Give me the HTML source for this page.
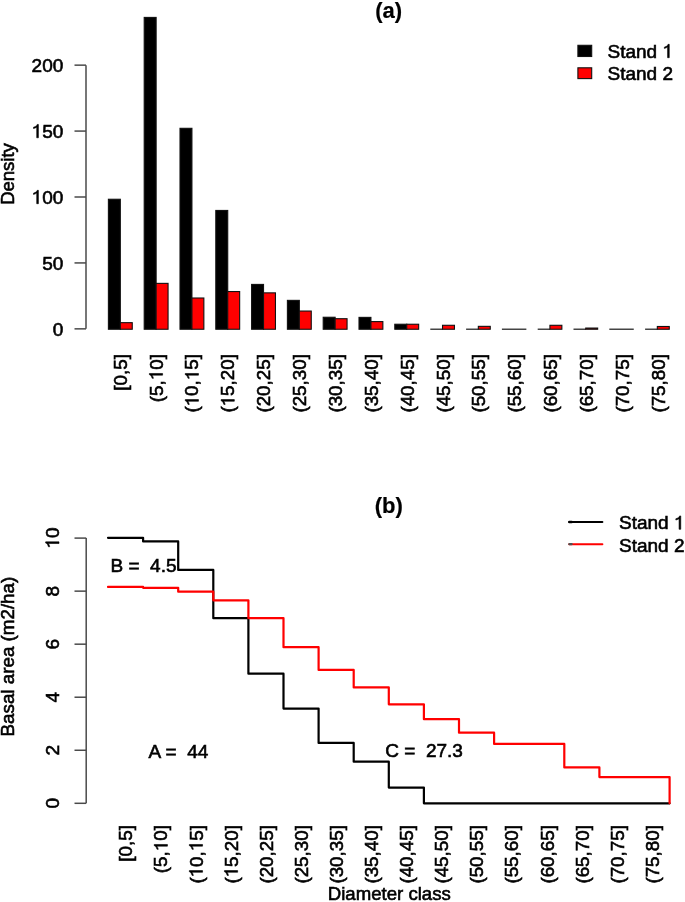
<!DOCTYPE html><html><head><meta charset="utf-8"><style>html,body{margin:0;padding:0;background:#fff;}svg{display:block;will-change:transform;}text{font-family:"Liberation Sans", sans-serif;font-size:19px;fill:#000;stroke:#000;stroke-width:0.6px;}.o{fill-opacity:0;stroke-opacity:0;}</style></head><body>
<svg width="685" height="902" viewBox="0 0 685 902">
<rect x="0" y="0" width="685" height="902" fill="#fff"/>
<g stroke="#4a4a4a" stroke-width="1.5" fill="none">
<line x1="86.00" y1="328.85" x2="86.00" y2="65.15"/>
<line x1="74.5" y1="328.85" x2="86.00" y2="328.85"/>
<line x1="74.5" y1="262.93" x2="86.00" y2="262.93"/>
<line x1="74.5" y1="197.00" x2="86.00" y2="197.00"/>
<line x1="74.5" y1="131.08" x2="86.00" y2="131.08"/>
<line x1="74.5" y1="65.15" x2="86.00" y2="65.15"/>
</g>
<text x="63.30" y="335.55" text-anchor="end">0</text>
<text x="63.30" y="269.62" text-anchor="end">50</text>
<text x="63.30" y="203.70" text-anchor="end"><tspan class="o">1</tspan>00</text>
<text x="63.30" y="137.78" text-anchor="end"><tspan class="o">1</tspan>50</text>
<text x="63.30" y="71.85" text-anchor="end">200</text>
<g stroke="#111" stroke-width="1.1">
<rect x="108.40" y="199.25" width="11.93" height="130.00" fill="#000"/>
<rect x="120.33" y="322.66" width="11.93" height="6.59" fill="#ff0000"/>
<rect x="144.20" y="17.42" width="11.93" height="311.83" fill="#000"/>
<rect x="156.13" y="283.37" width="11.93" height="45.88" fill="#ff0000"/>
<rect x="180.00" y="128.31" width="11.93" height="200.94" fill="#000"/>
<rect x="191.93" y="298.00" width="11.93" height="31.25" fill="#ff0000"/>
<rect x="215.80" y="210.45" width="11.93" height="118.80" fill="#000"/>
<rect x="227.73" y="291.54" width="11.93" height="37.71" fill="#ff0000"/>
<rect x="251.60" y="284.42" width="11.93" height="44.83" fill="#000"/>
<rect x="263.53" y="292.86" width="11.93" height="36.39" fill="#ff0000"/>
<rect x="287.40" y="300.37" width="11.93" height="28.88" fill="#000"/>
<rect x="299.33" y="311.05" width="11.93" height="18.20" fill="#ff0000"/>
<rect x="323.20" y="317.25" width="11.93" height="12.00" fill="#000"/>
<rect x="335.13" y="318.70" width="11.93" height="10.55" fill="#ff0000"/>
<rect x="359.00" y="317.38" width="11.93" height="11.87" fill="#000"/>
<rect x="370.93" y="321.60" width="11.93" height="7.65" fill="#ff0000"/>
<rect x="394.80" y="324.24" width="11.93" height="5.01" fill="#000"/>
<rect x="406.73" y="324.24" width="11.93" height="5.01" fill="#ff0000"/>
<line x1="430.30" y1="329.25" x2="442.83" y2="329.25" stroke="#454545" stroke-width="1.5"/>
<rect x="442.53" y="325.29" width="11.93" height="3.96" fill="#ff0000"/>
<line x1="466.10" y1="329.25" x2="478.63" y2="329.25" stroke="#454545" stroke-width="1.5"/>
<rect x="478.33" y="326.35" width="11.93" height="2.90" fill="#ff0000"/>
<line x1="501.90" y1="329.25" x2="526.36" y2="329.25" stroke="#454545" stroke-width="1.5"/>
<line x1="537.70" y1="329.25" x2="550.23" y2="329.25" stroke="#454545" stroke-width="1.5"/>
<rect x="549.93" y="325.29" width="11.93" height="3.96" fill="#ff0000"/>
<line x1="573.50" y1="329.25" x2="586.03" y2="329.25" stroke="#454545" stroke-width="1.5"/>
<rect x="585.73" y="328.06" width="11.93" height="1.19" fill="#ff0000"/>
<line x1="609.30" y1="329.25" x2="633.76" y2="329.25" stroke="#454545" stroke-width="1.5"/>
<line x1="645.10" y1="329.25" x2="657.63" y2="329.25" stroke="#454545" stroke-width="1.5"/>
<rect x="657.33" y="326.48" width="11.93" height="2.77" fill="#ff0000"/>
</g>
<text transform="translate(126.73,354.1) rotate(-90)" text-anchor="end" style="font-size:18.8px">[0,5]</text>
<text transform="translate(162.60,354.1) rotate(-90)" text-anchor="end" style="font-size:18.8px">(5,<tspan class="o">1</tspan>0]</text>
<text transform="translate(198.47,354.1) rotate(-90)" text-anchor="end" style="font-size:18.8px">(<tspan class="o">1</tspan>0,<tspan class="o">1</tspan>5]</text>
<text transform="translate(234.34,354.1) rotate(-90)" text-anchor="end" style="font-size:18.8px">(<tspan class="o">1</tspan>5,20]</text>
<text transform="translate(270.21,354.1) rotate(-90)" text-anchor="end" style="font-size:18.8px">(20,25]</text>
<text transform="translate(306.08,354.1) rotate(-90)" text-anchor="end" style="font-size:18.8px">(25,30]</text>
<text transform="translate(341.95,354.1) rotate(-90)" text-anchor="end" style="font-size:18.8px">(30,35]</text>
<text transform="translate(377.82,354.1) rotate(-90)" text-anchor="end" style="font-size:18.8px">(35,40]</text>
<text transform="translate(413.69,354.1) rotate(-90)" text-anchor="end" style="font-size:18.8px">(40,45]</text>
<text transform="translate(449.56,354.1) rotate(-90)" text-anchor="end" style="font-size:18.8px">(45,50]</text>
<text transform="translate(485.43,354.1) rotate(-90)" text-anchor="end" style="font-size:18.8px">(50,55]</text>
<text transform="translate(521.30,354.1) rotate(-90)" text-anchor="end" style="font-size:18.8px">(55,60]</text>
<text transform="translate(557.17,354.1) rotate(-90)" text-anchor="end" style="font-size:18.8px">(60,65]</text>
<text transform="translate(593.04,354.1) rotate(-90)" text-anchor="end" style="font-size:18.8px">(65,70]</text>
<text transform="translate(628.91,354.1) rotate(-90)" text-anchor="end" style="font-size:18.8px">(70,75]</text>
<text transform="translate(664.78,354.1) rotate(-90)" text-anchor="end" style="font-size:18.8px">(75,80]</text>
<text transform="translate(14.2,174.0) rotate(-90)" text-anchor="middle" style="font-size:18.5px">Density</text>
<text x="388.70" y="18.00" text-anchor="middle" style="font-weight:bold;font-size:22px;stroke-width:0.2px">(a)</text>
<rect x="577.9" y="45.3" width="13.8" height="11.2" fill="#000" stroke="#111" stroke-width="1.1"/>
<rect x="577.9" y="67.8" width="13.8" height="10.8" fill="#ff0000" stroke="#111" stroke-width="1.1"/>
<text x="607.50" y="57.70">Stand <tspan class="o">1</tspan></text>
<text x="607.50" y="79.80">Stand 2</text>
<g stroke="#4a4a4a" stroke-width="1.5" fill="none">
<line x1="86.20" y1="803.30" x2="86.20" y2="538.10"/>
<line x1="74.5" y1="803.30" x2="86.20" y2="803.30"/>
<line x1="74.5" y1="750.26" x2="86.20" y2="750.26"/>
<line x1="74.5" y1="697.22" x2="86.20" y2="697.22"/>
<line x1="74.5" y1="644.18" x2="86.20" y2="644.18"/>
<line x1="74.5" y1="591.14" x2="86.20" y2="591.14"/>
<line x1="74.5" y1="538.10" x2="86.20" y2="538.10"/>
</g>
<text transform="translate(59.0,803.30) rotate(-90)" text-anchor="middle">0</text>
<text transform="translate(59.0,750.26) rotate(-90)" text-anchor="middle">2</text>
<text transform="translate(59.0,697.22) rotate(-90)" text-anchor="middle">4</text>
<text transform="translate(59.0,644.18) rotate(-90)" text-anchor="middle">6</text>
<text transform="translate(59.0,591.14) rotate(-90)" text-anchor="middle">8</text>
<text transform="translate(59.0,538.10) rotate(-90)" text-anchor="middle"><tspan class="o">1</tspan>0</text>
<polyline points="108.00,537.83 143.10,537.83 143.10,541.41 178.20,541.41 178.20,569.92 213.30,569.92 213.30,618.19 248.40,618.19 248.40,673.70 283.50,673.70 283.50,708.60 318.60,708.60 318.60,742.89 353.70,742.89 353.70,761.69 388.80,761.69 388.80,787.60 423.90,787.60 423.90,803.30 459.00,803.30 459.00,803.30 494.10,803.30 494.10,803.30 529.20,803.30 529.20,803.30 564.30,803.30 564.30,803.30 599.40,803.30 599.40,803.30 634.50,803.30 634.50,803.30 669.60,803.30 669.60,803.30" fill="none" stroke="#000" stroke-width="2.2" stroke-linejoin="round" stroke-linecap="round"/>
<polyline points="108.00,586.90 143.10,586.90 143.10,587.80 178.20,587.80 178.20,591.67 213.30,591.67 213.30,600.29 248.40,600.29 248.40,618.19 283.50,618.19 283.50,647.20 318.60,647.20 318.60,669.90 353.70,669.90 353.70,687.41 388.80,687.41 388.80,704.30 423.90,704.30 423.90,719.21 459.00,719.21 459.00,732.70 494.10,732.70 494.10,743.90 529.20,743.90 529.20,743.90 564.30,743.90 564.30,767.39 599.40,767.39 599.40,777.05 634.50,777.05 634.50,777.05 669.60,777.05 669.60,803.30" fill="none" stroke="#ff0000" stroke-width="2.2" stroke-linejoin="round" stroke-linecap="round"/>
<text transform="translate(132.35,825.1) rotate(-90)" text-anchor="end" style="font-size:18.8px">[0,5]</text>
<text transform="translate(167.45,825.1) rotate(-90)" text-anchor="end" style="font-size:18.8px">(5,<tspan class="o">1</tspan>0]</text>
<text transform="translate(202.55,825.1) rotate(-90)" text-anchor="end" style="font-size:18.8px">(<tspan class="o">1</tspan>0,<tspan class="o">1</tspan>5]</text>
<text transform="translate(237.65,825.1) rotate(-90)" text-anchor="end" style="font-size:18.8px">(<tspan class="o">1</tspan>5,20]</text>
<text transform="translate(272.75,825.1) rotate(-90)" text-anchor="end" style="font-size:18.8px">(20,25]</text>
<text transform="translate(307.85,825.1) rotate(-90)" text-anchor="end" style="font-size:18.8px">(25,30]</text>
<text transform="translate(342.95,825.1) rotate(-90)" text-anchor="end" style="font-size:18.8px">(30,35]</text>
<text transform="translate(378.05,825.1) rotate(-90)" text-anchor="end" style="font-size:18.8px">(35,40]</text>
<text transform="translate(413.15,825.1) rotate(-90)" text-anchor="end" style="font-size:18.8px">(40,45]</text>
<text transform="translate(448.25,825.1) rotate(-90)" text-anchor="end" style="font-size:18.8px">(45,50]</text>
<text transform="translate(483.35,825.1) rotate(-90)" text-anchor="end" style="font-size:18.8px">(50,55]</text>
<text transform="translate(518.45,825.1) rotate(-90)" text-anchor="end" style="font-size:18.8px">(55,60]</text>
<text transform="translate(553.55,825.1) rotate(-90)" text-anchor="end" style="font-size:18.8px">(60,65]</text>
<text transform="translate(588.65,825.1) rotate(-90)" text-anchor="end" style="font-size:18.8px">(65,70]</text>
<text transform="translate(623.75,825.1) rotate(-90)" text-anchor="end" style="font-size:18.8px">(70,75]</text>
<text transform="translate(658.85,825.1) rotate(-90)" text-anchor="end" style="font-size:18.8px">(75,80]</text>
<text x="389.30" y="900.00" text-anchor="middle" style="font-size:18.6px">Diameter class</text>
<text transform="translate(14.3,656.6) rotate(-90)" text-anchor="middle" style="font-size:18.8px">Basal area (m2/ha)</text>
<text x="388.80" y="513.00" text-anchor="middle" style="font-weight:bold;font-size:22px;stroke-width:0.2px">(b)</text>
<line x1="569.2" y1="522" x2="602.4" y2="522" stroke="#000" stroke-width="2" stroke-linecap="round"/>
<line x1="569.4" y1="522" x2="571.6" y2="522" stroke="#000" stroke-width="2.5" stroke-linecap="round"/>
<line x1="569.2" y1="544.2" x2="602.4" y2="544.2" stroke="#ff0000" stroke-width="2" stroke-linecap="round"/>
<line x1="569.4" y1="544.2" x2="571.6" y2="544.2" stroke="#505050" stroke-width="2.3" stroke-linecap="round"/>
<text x="619.00" y="529.30">Stand <tspan class="o">1</tspan></text>
<text x="619.00" y="551.50">Stand 2</text>
<text x="110.50" y="571.60" xml:space="preserve">B =  4.5</text>
<text x="148.60" y="757.80" xml:space="preserve">A =  44</text>
<text x="385.30" y="757.00" xml:space="preserve">C =  27.3</text>
<g fill="#000" stroke="#000"><path d="M 359 0 L 359 703 L 296 703 C 286 662 266 634 232 612 C 200 591 158 580 101 556 L 101 488 C 165 505 230 525 271 560 L 271 0 Z" transform="translate(31.581,203.700) scale(0.01900,-0.01900)" stroke-width="31.579"/><path d="M 359 0 L 359 703 L 296 703 C 286 662 266 634 232 612 C 200 591 158 580 101 556 L 101 488 C 165 505 230 525 271 560 L 271 0 Z" transform="translate(31.581,137.780) scale(0.01900,-0.01900)" stroke-width="31.579"/><g transform="translate(162.60,354.1) rotate(-90)"><path d="M 359 0 L 359 703 L 296 703 C 286 662 266 634 232 612 C 200 591 158 580 101 556 L 101 488 C 165 505 230 525 271 560 L 271 0 Z" transform="translate(-26.125,0.000) scale(0.01880,-0.01880)" stroke-width="31.915"/></g><g transform="translate(198.47,354.1) rotate(-90)"><path d="M 359 0 L 359 703 L 296 703 C 286 662 266 634 232 612 C 200 591 158 580 101 556 L 101 488 C 165 505 230 525 271 560 L 271 0 Z" transform="translate(-52.250,0.000) scale(0.01880,-0.01880)" stroke-width="31.915"/></g><g transform="translate(198.47,354.1) rotate(-90)"><path d="M 359 0 L 359 703 L 296 703 C 286 662 266 634 232 612 C 200 591 158 580 101 556 L 101 488 C 165 505 230 525 271 560 L 271 0 Z" transform="translate(-26.125,0.000) scale(0.01880,-0.01880)" stroke-width="31.915"/></g><g transform="translate(234.34,354.1) rotate(-90)"><path d="M 359 0 L 359 703 L 296 703 C 286 662 266 634 232 612 C 200 591 158 580 101 556 L 101 488 C 165 505 230 525 271 560 L 271 0 Z" transform="translate(-52.234,0.000) scale(0.01880,-0.01880)" stroke-width="31.915"/></g><path d="M 359 0 L 359 703 L 296 703 C 286 662 266 634 232 612 C 200 591 158 580 101 556 L 101 488 C 165 505 230 525 271 560 L 271 0 Z" transform="translate(662.438,57.700) scale(0.01900,-0.01900)" stroke-width="31.579"/><g transform="translate(59.0,538.10) rotate(-90)"><path d="M 359 0 L 359 703 L 296 703 C 286 662 266 634 232 612 C 200 591 158 580 101 556 L 101 488 C 165 505 230 525 271 560 L 271 0 Z" transform="translate(-10.578,0.000) scale(0.01900,-0.01900)" stroke-width="31.579"/></g><g transform="translate(167.45,825.1) rotate(-90)"><path d="M 359 0 L 359 703 L 296 703 C 286 662 266 634 232 612 C 200 591 158 580 101 556 L 101 488 C 165 505 230 525 271 560 L 271 0 Z" transform="translate(-26.125,0.000) scale(0.01880,-0.01880)" stroke-width="31.915"/></g><g transform="translate(202.55,825.1) rotate(-90)"><path d="M 359 0 L 359 703 L 296 703 C 286 662 266 634 232 612 C 200 591 158 580 101 556 L 101 488 C 165 505 230 525 271 560 L 271 0 Z" transform="translate(-52.250,0.000) scale(0.01880,-0.01880)" stroke-width="31.915"/></g><g transform="translate(202.55,825.1) rotate(-90)"><path d="M 359 0 L 359 703 L 296 703 C 286 662 266 634 232 612 C 200 591 158 580 101 556 L 101 488 C 165 505 230 525 271 560 L 271 0 Z" transform="translate(-26.125,0.000) scale(0.01880,-0.01880)" stroke-width="31.915"/></g><g transform="translate(237.65,825.1) rotate(-90)"><path d="M 359 0 L 359 703 L 296 703 C 286 662 266 634 232 612 C 200 591 158 580 101 556 L 101 488 C 165 505 230 525 271 560 L 271 0 Z" transform="translate(-52.234,0.000) scale(0.01880,-0.01880)" stroke-width="31.915"/></g><path d="M 359 0 L 359 703 L 296 703 C 286 662 266 634 232 612 C 200 591 158 580 101 556 L 101 488 C 165 505 230 525 271 560 L 271 0 Z" transform="translate(673.938,529.300) scale(0.01900,-0.01900)" stroke-width="31.579"/></g>
</svg></body></html>
